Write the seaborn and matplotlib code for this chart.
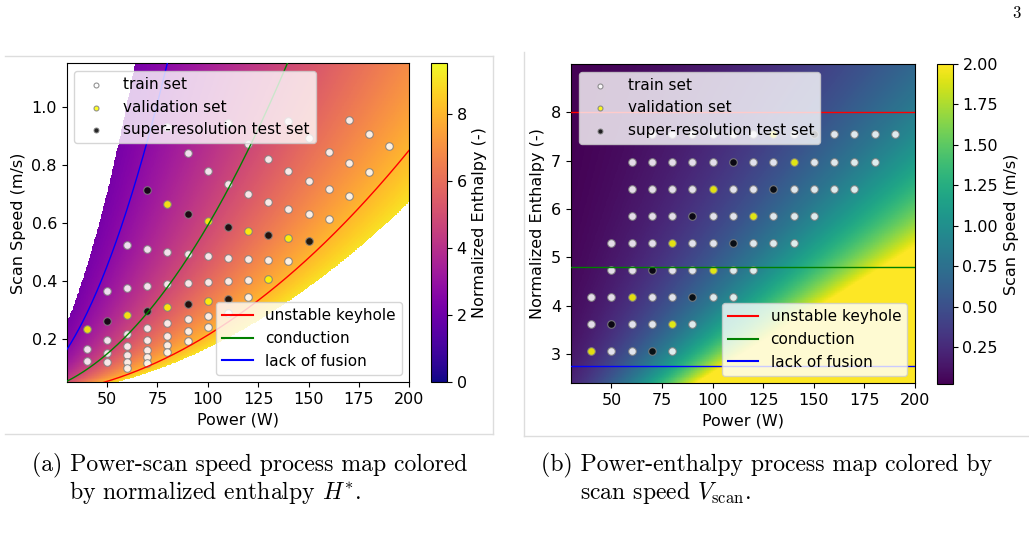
import matplotlib

matplotlib.use("Agg")
import matplotlib.pyplot as plt
import numpy as np
import pandas as pd
import seaborn as sns
from matplotlib.lines import Line2D

plt.rcParams["font.family"] = ["DejaVu Sans"]
plt.rcParams["mathtext.fontset"] = "cm"

# process grid: rows of normalized enthalpy, powers (W) present in each row
enthalpy_levels = [3.06, 3.62, 4.18, 4.74, 5.30, 5.86, 6.42, 6.98, 7.54]
row_powers = [
    [40, 50, 60, 70, 80],
    [40, 50, 60, 70, 80, 90],
    [40, 50, 60, 70, 80, 90, 100, 110],
    [50, 60, 70, 80, 90, 100, 110, 120],
    [50, 60, 70, 80, 90, 100, 110, 120, 130, 140],
    [60, 70, 80, 90, 100, 110, 120, 130, 140, 150],
    [60, 70, 80, 90, 100, 110, 120, 130, 140, 150, 160, 170],
    [60, 70, 80, 90, 100, 110, 120, 130, 140, 150, 160, 170, 180],
    [70, 80, 90, 100, 110, 120, 130, 140, 150, 160, 170, 180, 190],
]
# (power, enthalpy) of held-out points
validation_points = [(40, 3.06), (80, 3.62), (60, 4.18), (100, 4.74), (80, 5.30),
                     (120, 5.86), (100, 6.42), (140, 6.98), (130, 7.54)]
test_points = [(70, 3.06), (50, 3.62), (90, 4.18), (70, 4.74), (110, 5.30),
               (90, 5.86), (130, 6.42), (110, 6.98), (150, 7.54)]

# H* = K * P / sqrt(V), K
K = 0.0369
regime_names = ["unstable keyhole", "conduction", "lack of fusion"]
regime_levels = [8.0, 4.8, 2.75]
regime_colors = ["red", "green", "blue"]

set_names = ["train set", "validation set", "super-resolution test set"]
set_colors = {"train set": "white", "validation set": "yellow",
              "super-resolution test set": "black"}

LEGEND_FS = 11.0
LABEL_FS = 11.5


def build_points():
    rows = []
    val = set(validation_points)
    tst = set(test_points)
    for h, powers in zip(enthalpy_levels, row_powers):
        for p in powers:
            if (p, h) in val:
                s = "validation set"
            elif (p, h) in tst:
                s = "super-resolution test set"
            else:
                s = "train set"
            rows.append({"power": p, "enthalpy": h, "set": s})
    df = pd.DataFrame(rows)
    df["speed"] = (K * df["power"] / df["enthalpy"]) ** 2
    return df


def draw_points(ax, df, y):
    for name in set_names:
        sub = df[df["set"] == name]
        sns.scatterplot(data=sub, x="power", y=y, color=set_colors[name],
                        edgecolor="gray", linewidth=0.8, s=30, alpha=0.85,
                        label=name, ax=ax, zorder=2)


def add_legends(ax):
    handles, labels = ax.get_legend_handles_labels()
    pts = [handles[labels.index(n)] for n in set_names]
    lines = [Line2D([], [], color=c, lw=1.5) for c in regime_colors]
    leg1 = ax.legend(pts, set_names, loc="upper left", markerscale=0.65,
                     fontsize=LEGEND_FS)
    ax.add_artist(leg1)
    ax.legend(lines, regime_names, loc="lower right", fontsize=LEGEND_FS)


df = build_points()

fig = plt.figure(figsize=(10.29, 5.33), dpi=100)
ax1 = fig.add_axes([0.0648, 0.2827, 0.3330, 0.5985])
cax1 = fig.add_axes([0.4189, 0.2827, 0.0153, 0.5985])
ax2 = fig.add_axes([0.5549, 0.2809, 0.3343, 0.5991])
cax2 = fig.add_axes([0.9103, 0.2790, 0.0156, 0.6009])

# (a) power - scan speed map coloured by enthalpy
P = np.linspace(30, 200, 500)
V = np.linspace(0.05, 1.15, 500)
PP, VV = np.meshgrid(P, V)
HH = K * PP / np.sqrt(VV)
HH = np.ma.masked_where((HH < 2.2) | (HH > 9.0), HH)
mesh1 = ax1.pcolormesh(PP, VV, HH, cmap="plasma", vmin=0, vmax=9.5,
                       shading="auto", rasterized=True, zorder=0)
for name, lvl, col in zip(regime_names, regime_levels, regime_colors):
    sns.lineplot(x=P, y=(K * P / lvl) ** 2, color=col, lw=1.0, ax=ax1,
                 zorder=3)
draw_points(ax1, df, "speed")
ax1.set_xlim(30, 200)
ax1.set_ylim(0.05, 1.15)
ax1.set_xticks([50, 75, 100, 125, 150, 175, 200])
ax1.set_yticks([0.2, 0.4, 0.6, 0.8, 1.0])
ax1.set_xlabel("Power (W)", fontsize=LABEL_FS)
ax1.set_ylabel("Scan Speed (m/s)", fontsize=LABEL_FS)
ax1.tick_params(labelsize=LABEL_FS)
add_legends(ax1)
cb1 = fig.colorbar(mesh1, cax=cax1, ticks=[0, 2, 4, 6, 8])
cb1.set_label("Normalized Enthalpy (-)", fontsize=LABEL_FS)
cb1.ax.tick_params(labelsize=LABEL_FS)

# (b) power - enthalpy map coloured by scan speed
H = np.linspace(2.39, 9.0, 500)
PP2, HH2 = np.meshgrid(P, H)
VV2 = (K * PP2 / HH2) ** 2
mesh2 = ax2.pcolormesh(PP2, HH2, VV2, cmap="viridis", vmin=0.02, vmax=2.0,
                       shading="auto", rasterized=True, zorder=0)
for name, lvl, col in zip(regime_names, regime_levels, regime_colors):
    ax2.axhline(lvl, color=col, lw=1.0, zorder=3)
draw_points(ax2, df, "enthalpy")
ax2.set_xlim(30, 200)
ax2.set_ylim(2.39, 9.0)
ax2.set_xticks([50, 75, 100, 125, 150, 175, 200])
ax2.set_yticks([3, 4, 5, 6, 7, 8])
ax2.set_xlabel("Power (W)", fontsize=LABEL_FS)
ax2.set_ylabel("Normalized Enthalpy (-)", fontsize=LABEL_FS)
ax2.tick_params(labelsize=LABEL_FS)
add_legends(ax2)
cb2 = fig.colorbar(mesh2, cax=cax2,
                   ticks=[0.25, 0.5, 0.75, 1.0, 1.25, 1.5, 1.75, 2.0])
cb2.ax.set_yticklabels(["0.25", "0.50", "0.75", "1.00", "1.25", "1.50",
                        "1.75", "2.00"])
cb2.set_label("Scan Speed (m/s)", fontsize=LABEL_FS)
cb2.ax.tick_params(labelsize=LABEL_FS)

# page decorations: subfigure frames, captions, page number
W, Hp = 1029, 533


def fx(x):
    return x / W


def fy(y):
    return 1 - y / Hp


frame = "#dddddd"
for xs, ys in [((5, 493), (56, 56)), ((493, 493), (56, 434)),
               ((5, 493), (434, 434)), ((524, 524), (52, 436)),
               ((524, 1029), (436, 436))]:
    fig.add_artist(Line2D([fx(xs[0]), fx(xs[1])], [fy(ys[0]), fy(ys[1])],
                          color=frame, lw=1.0))

cap = dict(fontfamily="cmr10", fontsize=17.1, va="baseline", ha="left")
fig.text(fx(32), fy(471), "(a) Power-scan speed process map colored", **cap)
fig.text(fx(69), fy(499), r"by normalized enthalpy $H^{*}$.", **cap)
fig.text(fx(541), fy(471), "(b) Power-enthalpy process map colored by", **cap)
fig.text(fx(580), fy(499), r"scan speed $V_{\mathrm{scan}}$.", **cap)
fig.text(fx(1012), fy(18), "3", fontfamily="cmr10", fontsize=12,
         va="baseline", ha="left")

fig.savefig("out.png", dpi=100)
